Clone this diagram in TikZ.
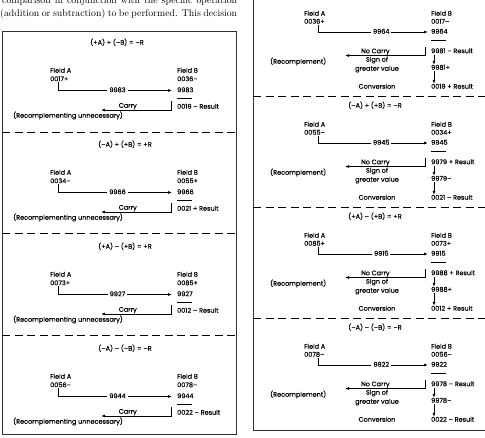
\documentclass[tikz,border=0pt]{standalone}
\usepackage{fontspec}
\usetikzlibrary{arrows.meta}
\newfontfamily\diagfont[FakeBold=0.35]{Poppins}
\begin{document}
\begin{tikzpicture}[x=1pt,y=-1pt,
  txt/.style={font=\diagfont\fontsize{6.5}{7}\selectfont, inner sep=0pt, text height=4.7pt, text depth=1.3pt},
  lt/.style={txt, anchor=west},
  ct/.style={txt, anchor=center},
  conn/.style={line width=0.75pt},
  arr/.style={conn, -{Latex[length=4pt,width=3pt]}},
  frame/.style={line width=0.8pt, draw=black!80},
  sep/.style={line width=0.9pt, dash pattern=on 8pt off 4.5pt},
  prose/.style={anchor=base west, inner sep=0pt, font=\fontsize{9.8}{12}\selectfont}]
\useasboundingbox (0,0) rectangle (485,438);

% running text above the figure
\node[prose] (p1) at (2,3.5) {\makebox[235pt][s]{comparison in conjunction with the specific operation}};
\node[prose] (p2) at (0,16.7) {\makebox[237pt][s]{(addition or subtraction) to be performed. This decision}};

% frames
\draw[frame] (2,31) rectangle (236,434);
\draw[frame] (253,-5) rectangle (490,430);

% left panel separators
\foreach \y in {132,233,335} \draw[sep] (2,\y) -- (236,\y);
% right panel separators
\foreach \y in {96.5,207.5,318.5} \draw[sep] (253,\y) -- (490,\y);

% ---------- left panel ----------
\foreach \k/\tx/\ttl/\va/\vb/\cm/\rs in {
  0/117/{(+A) + (–B) = –R}/{0017+}/{0036–}/9983/{0019 – Result},
  1/125/{(–A) + (+B) = +R}/{0034–}/{0055+}/9966/{0021 + Result},
  2/125/{(+A) – (+B) = +R}/{0073+}/{0085+}/9927/{0012 – Result},
  3/125/{(–A) – (–B) = –R}/{0056–}/{0078–}/9944/{0022 – Result}}{
  \pgfmathsetmacro\f{71+102*\k}
  \node[ct] (LT\k) at (\tx,\f-28) {\ttl};
  \node[lt] (LFA\k) at (50,\f) {Field A};
  \node[lt] (LVA\k) at (50,\f+8.5) {\va};
  \node[lt] (LFB\k) at (177,\f) {Field B};
  \node[lt] (LVB\k) at (177,\f+8.5) {\vb};
  \node[lt] (LCB\k) at (177,\f+19.5) {\cm};
  \node[lt] (LR\k) at (177,\f+36) {\rs};
  \node[lt] (LN\k) at (13,\f+45) {(Recomplementing unnecessary)};
  \coordinate (LUa\k) at (177,\f+27);
  \coordinate (LUb\k) at (192,\f+27);
  \draw[conn] (LUa\k) -- (LUb\k);
  \coordinate (LS\k) at (58,\f+11.5);
  \draw[arr, shorten >=5pt] (LS\k) |- (LCB\k.west)
     node[pos=0.75, txt, fill=white, inner xsep=2pt] {\cm};
  \coordinate (LCt\k) at (171.5,\f+30);
  \coordinate (LCe\k) at (101,\f+39);
  \draw[arr] (LCt\k) |- (LCe\k) node[pos=0.81, txt, anchor=south, inner ysep=0.6pt] {Carry};
}

% ---------- right panel ----------
\foreach \k/\va/\vb/\cm/\rs/\md/\fn in {
  0/{0036+}/{0017–}/9964/{9981 – Result}/{9981+}/{0019 + Result},
  1/{0055–}/{0034+}/9945/{9979 + Result}/{9979–}/{0021 – Result},
  2/{0085+}/{0073+}/9915/{9988 + Result}/{9988+}/{0012 + Result},
  3/{0078–}/{0056–}/9922/{9978 – Result}/{9978–}/{0022 – Result}}{
  \pgfmathsetmacro\f{14+111*\k}
  \node[lt] (RFA\k) at (304,\f) {Field A};
  \node[lt] (RVA\k) at (304,\f+8) {\va};
  \node[lt] (RFB\k) at (431,\f) {Field B};
  \node[lt] (RVB\k) at (431,\f+8) {\vb};
  \node[lt] (RCB\k) at (431,\f+18) {\cm};
  \node[lt] (RR\k) at (431,\f+37.5) {\rs};
  \node[lt] (RM\k) at (431,\f+54) {\md};
  \node[lt] (RF\k) at (431,\f+73) {\fn};
  \node[lt] (RRc\k) at (270,\f+48) {(Recomplement)};
  \node[ct] (RSg\k) at (377,\f+46) {Sign of};
  \node[ct] (RGv\k) at (377,\f+55) {greater value};
  \node[ct] (RCv\k) at (377,\f+73) {Conversion};
  \coordinate (RUa\k) at (431,\f+26);
  \coordinate (RUb\k) at (446,\f+26);
  \draw[conn] (RUa\k) -- (RUb\k);
  \coordinate (RS\k) at (318,\f+11);
  \draw[arr, shorten >=3pt] (RS\k) |- (RCB\k.west)
     node[pos=0.78, txt, fill=white, inner xsep=2pt] {\cm};
  \coordinate (RCt\k) at (425,\f+33);
  \coordinate (RCe\k) at (345,\f+41.5);
  \draw[arr] (RCt\k) |- (RCe\k) node[pos=0.81, txt, anchor=south, inner ysep=0.6pt] {No Carry};
  \draw[arr] ([xshift=3pt]RR\k.south west) -- ([xshift=3pt]RM\k.north west);
  \draw[arr] ([xshift=3pt]RM\k.south west) -- ([xshift=3pt]RF\k.north west);
}
\node[ct] (RT1) at (375,106) {(–A) + (+B) = –R};
\node[ct] (RT2) at (375,217) {(+A) – (+B) = +R};
\node[ct] (RT3) at (375,328) {(–A) – (–B) = –R};
\end{tikzpicture}
\end{document}
